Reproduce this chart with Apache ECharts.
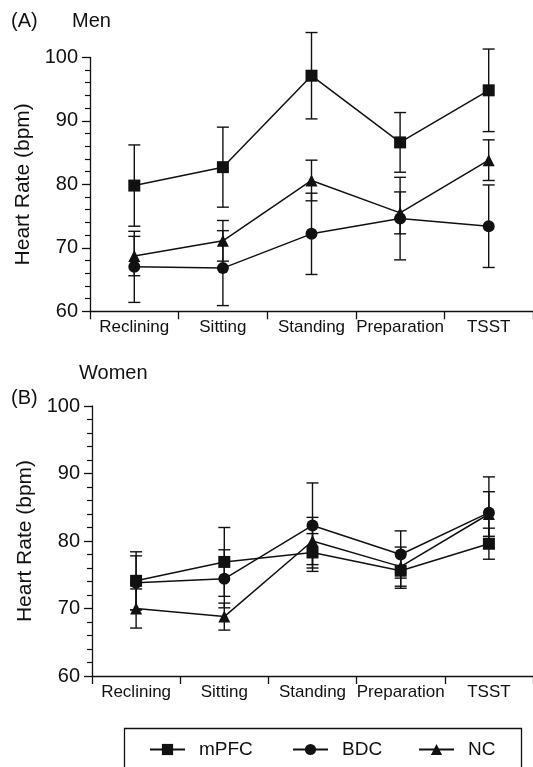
<!DOCTYPE html>
<html>
<head>
<meta charset="utf-8">
<script src="https://cdn.jsdelivr.net/npm/echarts@6/dist/echarts.min.js"></script>
<style>
html,body{margin:0;padding:0;background:#fff;}
#c{width:533px;height:767px;}
</style>
</head>
<body>
<div id="c"></div>
<script>
const categories = ['Reclining', 'Sitting', 'Standing', 'Preparation', 'TSST'];
const yTicks = [60, 70, 80, 90, 100];

// Men (A)
const menMPFC = [79.8, 82.7, 97.1, 86.6, 94.8];
const menMPFCErr = [6.4, 6.3, 6.8, 4.7, 6.5];
const menBDC = [67.0, 66.8, 72.2, 74.6, 73.4];
const menBDCErr = [5.6, 5.9, 6.4, 6.5, 6.5];
const menNC = [68.7, 71.1, 80.6, 75.5, 83.8];
const menNCErr = [3.1, 3.2, 3.2, 3.3, 3.2];

// Women (B)
const womenMPFC = [74.1, 76.9, 78.3, 75.6, 79.6];
const womenMPFCErr = [4.3, 5.1, 2.8, 2.6, 2.3];
const womenBDC = [73.8, 74.4, 82.3, 78.0, 84.2];
const womenBDCErr = [4.0, 4.3, 6.3, 3.5, 5.3];
const womenNC = [70.0, 68.8, 80.0, 76.2, 84.0];
const womenNCErr = [2.9, 2.0, 3.5, 2.9, 3.3];

const FONT = "'Liberation Sans', Arial, Helvetica, sans-serif";
const INK = '#111';

function errData(vals, errs) {
  return vals.map((v, i) => [i, +(v - errs[i]).toFixed(2), +(v + errs[i]).toFixed(2)]);
}
function errRender(params, api) {
  const x = api.value(0);
  const p1 = api.coord([x, api.value(2)]);
  const p2 = api.coord([x, api.value(1)]);
  const hw = 6;
  const st = { stroke: INK, lineWidth: 1.4 };
  return {
    type: 'group',
    children: [
      { type: 'line', shape: { x1: p1[0], y1: p1[1], x2: p2[0], y2: p2[1] }, style: st },
      { type: 'line', shape: { x1: p1[0] - hw, y1: p1[1], x2: p1[0] + hw, y2: p1[1] }, style: st },
      { type: 'line', shape: { x1: p2[0] - hw, y1: p2[1], x2: p2[0] + hw, y2: p2[1] }, style: st }
    ]
  };
}

function xAxisOpt(gi) {
  return {
    type: 'category', gridIndex: gi, data: categories, boundaryGap: true,
    axisLine: { lineStyle: { color: INK, width: 1.3 } },
    axisTick: { show: true, length: 8, lineStyle: { color: INK, width: 1.3 } },
    axisLabel: { color: INK, fontSize: 17, fontFamily: FONT, margin: 8, interval: 0 },
    splitLine: { show: false }
  };
}
function yAxisOpt(gi) {
  return {
    type: 'value', gridIndex: gi, min: yTicks[0], max: yTicks[yTicks.length - 1], interval: 10,
    name: 'Heart Rate (bpm)', nameLocation: 'middle', nameGap: 55,
    nameTextStyle: { color: INK, fontSize: 21, fontFamily: FONT },
    axisLine: { show: true, lineStyle: { color: INK, width: 1.3 } },
    axisTick: { show: true, length: 8, lineStyle: { color: INK, width: 1.3 } },
    minorTick: { show: true, splitNumber: 5, length: 5, lineStyle: { color: INK, width: 1.2 } },
    axisLabel: { color: INK, fontSize: 20, fontFamily: FONT, margin: 12 },
    splitLine: { show: false }
  };
}

const defs = [
  { name: 'mPFC', symbol: 'rect', size: 12 },
  { name: 'BDC', symbol: 'circle', size: 12 },
  { name: 'NC', symbol: 'triangle', size: 12 }
];
const groups = [
  [menMPFC, menBDC, menNC],
  [womenMPFC, womenBDC, womenNC]
];
const groupErrs = [
  [menMPFCErr, menBDCErr, menNCErr],
  [womenMPFCErr, womenBDCErr, womenNCErr]
];

const series = [];
for (let g = 0; g < 2; g++) {
  for (let k = 0; k < 3; k++) {
    series.push({
      type: 'custom', name: defs[k].name + '-err' + g, xAxisIndex: g, yAxisIndex: g,
      renderItem: errRender, data: errData(groups[g][k], groupErrs[g][k]),
      encode: { x: 0, y: [1, 2] }, z: 2, silent: true
    });
  }
  for (let k = 0; k < 3; k++) {
    series.push({
      type: 'line', name: defs[k].name, xAxisIndex: g, yAxisIndex: g,
      data: groups[g][k], symbol: defs[k].symbol, symbolSize: defs[k].size,
      lineStyle: { color: INK, width: 1.5 }, itemStyle: { color: INK },
      z: 3
    });
  }
}

const legendLefts = [149, 292, 418];
const legends = defs.map((d, i) => ({
  data: [d.name], left: legendLefts[i], top: 740, padding: 0, orient: 'horizontal',
  itemWidth: 35, itemHeight: 14, selectedMode: false,
  textStyle: { color: INK, fontSize: 19, fontFamily: FONT, padding: [0, 0, 0, 9] }
}));

const titleStyle = { color: INK, fontSize: 20, fontWeight: 'normal', fontFamily: FONT };

const chart = echarts.init(document.getElementById('c'));
chart.setOption({
  animation: false,
  backgroundColor: '#fff',
  title: [
    { text: '(A)', left: 11, top: 11, padding: 0, textStyle: titleStyle },
    { text: 'Men', left: 72, top: 11, padding: 0, textStyle: titleStyle },
    { text: 'Women', left: 79, top: 363, padding: 0, textStyle: titleStyle },
    { text: '(B)', left: 11, top: 388, padding: 0, textStyle: titleStyle }
  ],
  legend: legends,
  grid: [
    { left: 90, right: -2, top: 57.3, height: 254, containLabel: false },
    { left: 92, right: -4, top: 406, height: 270, containLabel: false }
  ],
  xAxis: [xAxisOpt(0), xAxisOpt(1)],
  yAxis: [yAxisOpt(0), yAxisOpt(1)],
  graphic: [
    { type: 'rect', shape: { x: 124.5, y: 728.5, width: 397, height: 60 },
      style: { fill: 'none', stroke: INK, lineWidth: 1.3 }, z: 0 }
  ],
  series: series
});
</script>
</body>
</html>
